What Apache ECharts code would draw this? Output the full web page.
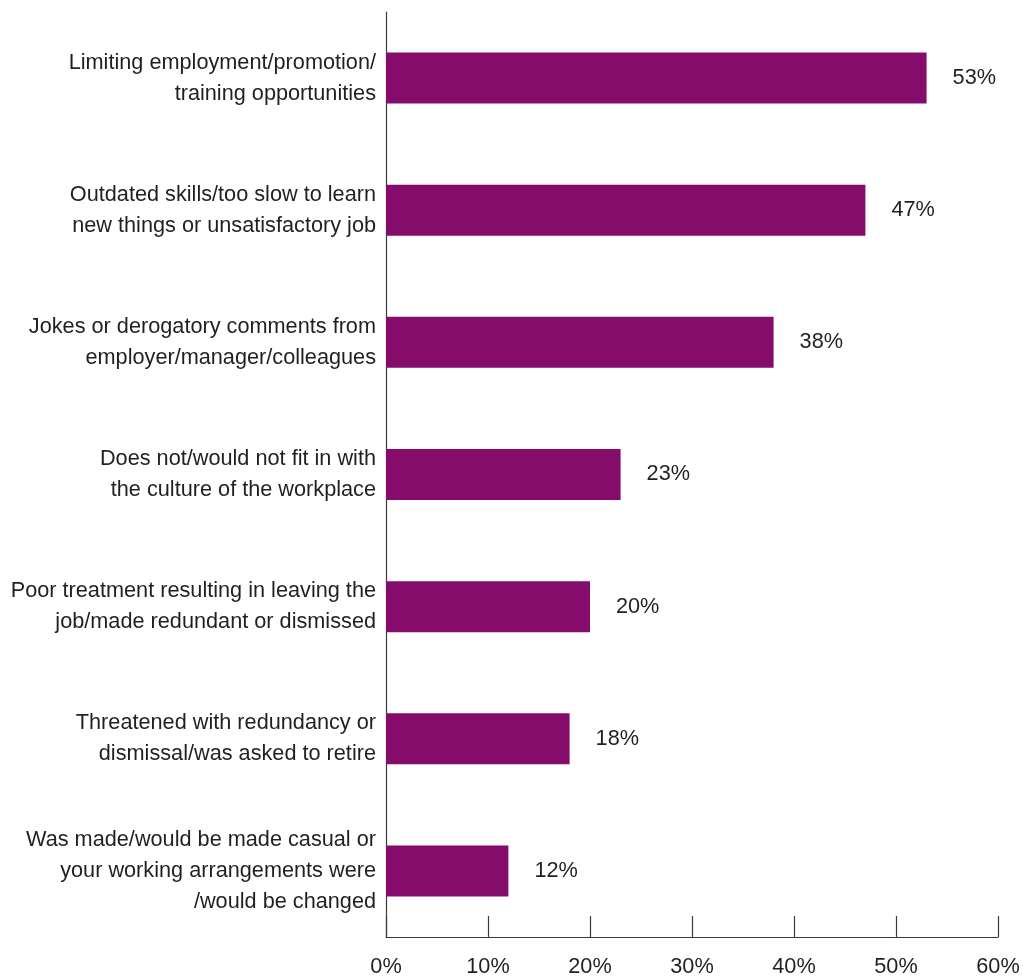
<!DOCTYPE html>
<html>
<head>
<meta charset="utf-8">
<script src="https://cdn.jsdelivr.net/npm/echarts@6/dist/echarts.min.js"></script>
<style>
  html, body { margin: 0; padding: 0; background: #fff; }
  #chart { width: 1023px; height: 978px; }
</style>
</head>
<body>
<div id="chart"></div>
<script>
// Reasons reported, top to bottom
const categories = [
  'Limiting employment/promotion/\ntraining opportunities',
  'Outdated skills/too slow to learn\nnew things or unsatisfactory job',
  'Jokes or derogatory comments from\nemployer/manager/colleagues',
  'Does not/would not fit in with\nthe culture of the workplace',
  'Poor treatment resulting in leaving the\njob/made redundant or dismissed',
  'Threatened with redundancy or\ndismissal/was asked to retire',
  'Was made/would be made casual or\nyour working arrangements were\n/would be changed'
];
// Share of respondents (%)
const values = [53, 47, 38, 23, 20, 18, 12];
// Horizontal axis ticks (%)
const xTicks = [0, 10, 20, 30, 40, 50, 60];

const FONT = '"Liberation Sans", Arial, sans-serif';
const TEXT = '#231f20';
const SIZE = 21.7;

const chart = echarts.init(document.getElementById('chart'), null, { renderer: 'canvas' });
chart.setOption({
  animation: false,
  backgroundColor: '#ffffff',
  grid: { left: 386, right: 25, top: 12, bottom: 41, containLabel: false, outerBoundsMode: 'none' },
  xAxis: {
    type: 'value',
    min: xTicks[0],
    max: xTicks[xTicks.length - 1],
    interval: xTicks[1] - xTicks[0],
    axisLine: { show: true, lineStyle: { color: '#3a3a3a', width: 1.2 } },
    axisTick: { show: true, inside: true, length: 21, lineStyle: { color: '#3a3a3a', width: 1.2 } },
    splitLine: { show: false },
    axisLabel: {
      formatter: v => v + '%',
      fontFamily: FONT, fontSize: SIZE, color: TEXT, margin: 19
    }
  },
  yAxis: {
    type: 'category',
    data: categories,
    inverse: true,
    axisLine: { show: true, lineStyle: { color: '#3a3a3a', width: 1.2 } },
    axisTick: { show: false },
    axisLabel: {
      fontFamily: FONT, fontSize: SIZE, color: TEXT, margin: 10,
      lineHeight: 31, align: 'right'
    }
  },
  series: [{
    type: 'bar',
    data: values,
    barWidth: 51,
    itemStyle: { color: '#850c6b' },
    label: {
      show: true,
      position: 'right',
      distance: 26,
      formatter: p => p.value + '%',
      fontFamily: FONT, fontSize: SIZE, color: TEXT
    }
  }]
});
</script>
</body>
</html>
